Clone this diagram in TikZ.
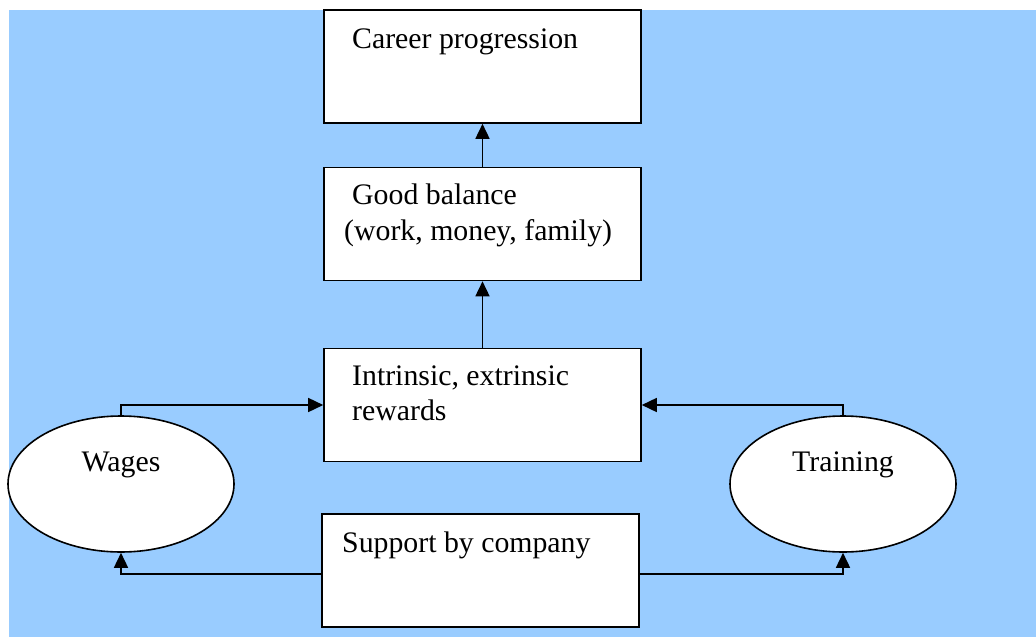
\documentclass[tikz,border=0pt]{standalone}
\usepackage{fontspec}
\setmainfont{Liberation Serif}
\usetikzlibrary{arrows.meta,shapes.geometric}
\definecolor{bgblue}{HTML}{99CCFF}
\tikzset{
  box/.style={draw=black,fill=white,line width=1.6pt,rectangle,minimum width=317pt,minimum height=113pt,inner sep=0pt},
  oval/.style={draw=black,fill=white,line width=1.6pt,ellipse,minimum width=226pt,minimum height=136pt,inner sep=0pt},
  txt/.style={anchor=base west,inner sep=0pt,font=\fontsize{29.8}{35.5}\selectfont,align=left},
  ctxt/.style={anchor=base,inner sep=0pt,font=\fontsize{29.8}{35.5}\selectfont},
  conn/.style={line width=1.6pt,-{Triangle[length=15pt,width=14pt]}}
}
\begin{document}
\begin{tikzpicture}[x=1pt,y=-1pt]
\useasboundingbox (0,0) rectangle (1036,637);
\fill[bgblue] (9,10) rectangle (1036,637);
\node[box] (career) at (482.5,66.5) {};
\node[box] (good) at (482.5,224) {};
\node[box] (intr) at (482.5,405) {};
\node[box] (supp) at (480.5,570.5) {};
\node[oval] (wages) at (121,484) {};
\node[oval] (train) at (843,484) {};
\node[txt] (t1) at (352,48) {Career progression};
\node[txt] (t2) at (352,204) {Good balance};
\node[txt] (t3) at (344,240) {(work, money, family)};
\node[txt] (t4) at (352,385) {Intrinsic, extrinsic};
\node[txt] (t5) at (352,420) {rewards};
\node[txt] (t6) at (342,552) {Support by company};
\node[ctxt] (t7) at (121,471) {Wages};
\node[ctxt] (t8) at (843,471) {Training};
\draw[conn] (good.north) -- (career.south);
\draw[conn] (intr.north) -- (good.south);
\draw[conn] (wages.north) |- (intr.west);
\draw[conn] (train.north) |- (intr.east);
\draw[conn] ([yshift=-3.5pt]supp.west) -| (wages.south);
\draw[conn] ([yshift=-3.5pt]supp.east) -| (train.south);
\end{tikzpicture}
\end{document}
